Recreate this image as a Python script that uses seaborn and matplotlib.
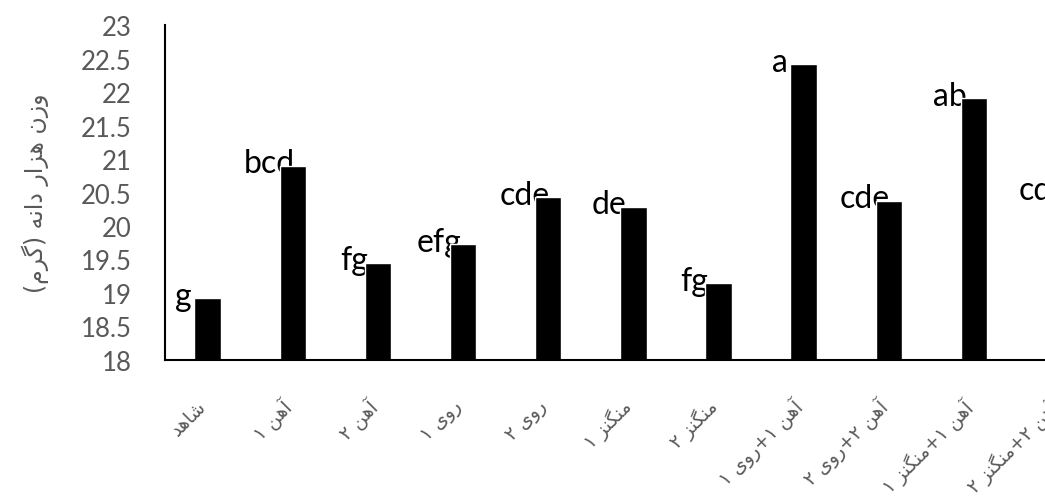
import numpy as np
import pandas as pd
import seaborn as sns
import matplotlib
matplotlib.use('Agg')
import matplotlib.pyplot as plt
from matplotlib.ticker import FormatStrFormatter
from matplotlib.transforms import ScaledTranslation

# treatments (Persian), thousand-grain weight and Duncan letters
treatments = ['شاهد', 'آهن ۱', 'آهن ۲', 'روی ۱', 'روی ۲', 'منگنز ۱', 'منگنز ۲',
              'آهن ۱+روی ۱', 'آهن ۲+روی ۲', 'آهن ۱+منگنز ۱', 'آهن ۲+منگنز ۲']
weight = [18.92, 20.90, 19.45, 19.73, 20.43, 20.29, 19.14, 22.42, 20.38, 21.91, 20.50]
letters = ['g', 'bcd', 'fg', 'efg', 'cde', 'de', 'fg', 'a', 'cde', 'ab', 'cd']
ylabel = 'وزن هزار دانه (گرم)'

# matplotlib does no arabic shaping, so pick presentation forms by hand
RIGHT_ONLY = set('اآدذرزژو')
FORMS = {
    'ا': ('\uFE8D', '\uFE8E'),
    'آ': ('\uFE81', '\uFE82'),
    'د': ('\uFEA9', '\uFEAA'),
    'ر': ('\uFEAD', '\uFEAE'),
    'ز': ('\uFEAF', '\uFEB0'),
    'و': ('\uFEED', '\uFEEE'),
    'ش': ('\uFEB5', '\uFEB6', '\uFEB7', '\uFEB8'),
    'ه': ('\uFEE9', '\uFEEA', '\uFEEB', '\uFEEC'),
    'م': ('\uFEE1', '\uFEE2', '\uFEE3', '\uFEE4'),
    'ن': ('\uFEE5', '\uFEE6', '\uFEE7', '\uFEE8'),
    'ی': ('\uFBFC', '\uFBFD', '\uFBFE', '\uFBFF'),
    'گ': ('\uFB92', '\uFB93', '\uFB94', '\uFB95'),
}


def shape(s):
    out = []
    for i, ch in enumerate(s):
        if ch not in FORMS:
            out.append(ch)
            continue
        f = FORMS[ch]
        prev = s[i - 1] if i > 0 else ''
        nxt = s[i + 1] if i + 1 < len(s) else ''
        join_prev = prev in FORMS and prev not in RIGHT_ONLY
        join_next = len(f) == 4 and nxt in FORMS
        if join_prev and join_next:
            out.append(f[3])
        elif join_prev:
            out.append(f[1])
        elif join_next:
            out.append(f[2])
        else:
            out.append(f[0])
    vis = ''.join(reversed(out))
    return vis.translate(str.maketrans('()', ')('))


df = pd.DataFrame({'treatment': treatments, 'weight': weight})

sns.set_theme(style='white')
plt.rcParams['font.family'] = ['Lato', 'DejaVu Sans']

fig = plt.figure(figsize=(10.45, 5.02), dpi=100)
ax = fig.add_axes([0.1579, 0.2815, 0.8963, 0.666])

sns.barplot(data=df, x='treatment', y='weight', color='black', saturation=1,
            width=0.31, ax=ax, zorder=2)

for i, (v, lt) in enumerate(zip(weight, letters)):
    ax.text(i - 0.28, v - 0.1, lt, ha='center', va='baseline',
            fontsize=23, color='black', zorder=1)

ax.set_ylim(18, 23)
ax.set_xlim(-0.5, len(treatments) - 0.5)
ax.set_yticks(np.arange(18, 23.01, 0.5))
ax.yaxis.set_major_formatter(FormatStrFormatter('%g'))
ax.tick_params(axis='y', direction='in', length=7.2, width=0.8, color='black',
               pad=24, labelsize=18.5, labelcolor='#595959')
ax.tick_params(axis='x', length=0, pad=31)

ax.set_xticks(range(len(treatments)))
ax.set_xticklabels([shape(t) for t in treatments], rotation=45, ha='right',
                   va='center', rotation_mode='anchor', fontsize=13.5,
                   color='#595959', family=['DejaVu Sans'])
shift = ScaledTranslation(-3 / 72, 0, fig.dpi_scale_trans)
for lab in ax.get_xticklabels():
    lab.set_transform(lab.get_transform() + shift)

ax.set_xlabel('')
ax.set_ylabel(shape(ylabel), fontsize=17, color='#595959', family=['DejaVu Sans'])
ax.yaxis.set_label_coords(-0.124, 0.5)

for side in ['top', 'right']:
    ax.spines[side].set_visible(False)
for side in ['left', 'bottom']:
    ax.spines[side].set_color('black')
    ax.spines[side].set_linewidth(1.5)

fig.savefig('out.png', dpi=100)
